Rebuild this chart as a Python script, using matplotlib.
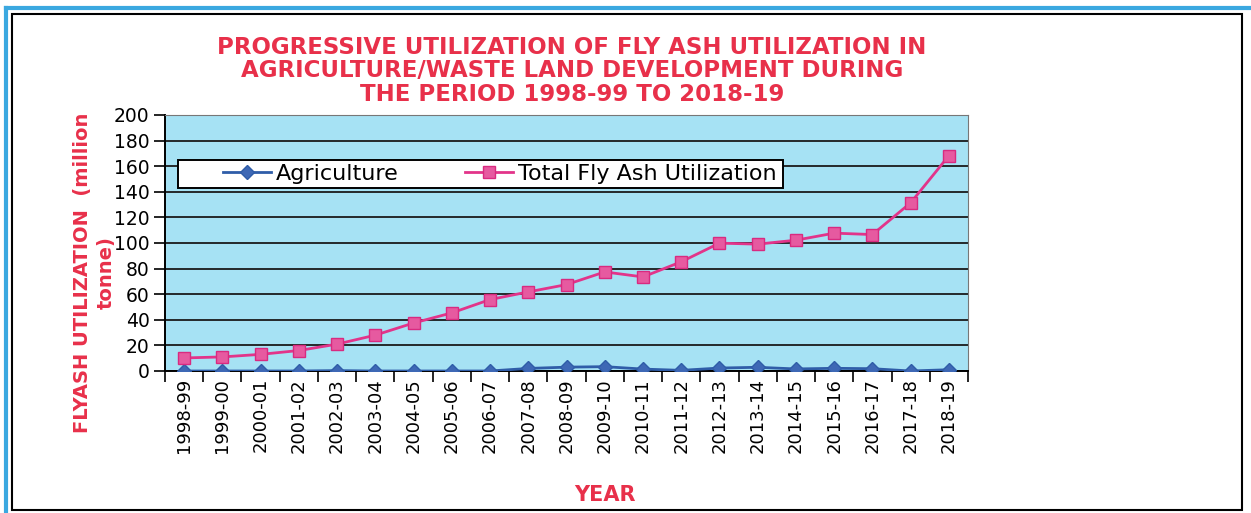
import matplotlib
matplotlib.use("Agg")
import matplotlib.pyplot as plt
from matplotlib.patches import Rectangle
from matplotlib.lines import Line2D

years = ["1998-99", "1999-00", "2000-01", "2001-02", "2002-03", "2003-04",
         "2004-05", "2005-06", "2006-07", "2007-08", "2008-09", "2009-10",
         "2010-11", "2011-12", "2012-13", "2013-14", "2014-15", "2015-16",
         "2016-17", "2017-18", "2018-19"]
agriculture = [0.0, 0.0, 0.0, 0.0, 0.3, 0.0, 0.0, 0.0, 0.0, 2.0, 3.0, 3.4,
               1.5, 0.5, 2.3, 2.9, 1.6, 2.1, 1.8, 0.0, 1.0]
total = [10.2, 11.0, 13.0, 16.0, 21.0, 28.0, 37.5, 45.4, 55.8, 61.8, 67.5,
         77.4, 73.5, 85.3, 99.9, 99.1, 102.2, 107.7, 106.6, 131.4, 168.2]

RED = "#E8304A"
fig = plt.figure(figsize=(12.51, 5.13), dpi=100)

# outer frame of the scanned page box
fig.add_artist(Rectangle((12 / 1251, 3 / 513), 1230 / 1251, 496 / 513,
                         transform=fig.transFigure, fill=False,
                         edgecolor="black", lw=1.5))
fig.add_artist(Line2D([6 / 1251, 6 / 1251], [0.0, 1 - 8 / 513],
                      transform=fig.transFigure, color="#3BA8E0", lw=3))
fig.add_artist(Line2D([6 / 1251, 1.0], [1 - 8 / 513, 1 - 8 / 513],
                      transform=fig.transFigure, color="#3BA8E0", lw=3))

ax = fig.add_axes([165 / 1251, 1 - 371 / 513, 803 / 1251, 256 / 513])
ax.set_facecolor("#A6E2F4")
x = list(range(len(years)))

ax.plot(x, agriculture, color="#2F5DA8", lw=2, marker="D", markersize=7,
        markerfacecolor="#3E68B5", markeredgecolor="#2F5DA8",
        label="Agriculture", zorder=3)
ax.plot(x, total, color="#E2348A", lw=2, marker="s", markersize=9,
        markerfacecolor="#E65AA0", markeredgecolor="#D92A80",
        label="Total Fly Ash Utilization", zorder=3)

ax.set_ylim(0, 200)
ax.set_yticks(range(0, 201, 20))
ax.set_xlim(-0.5, len(years) - 0.5)
ax.set_xticks(x)
ax.set_xticklabels(years, rotation=90, fontsize=13)
ax.set_xticks([i - 0.5 for i in range(len(years) + 1)], minor=True)
ax.tick_params(axis="x", which="major", length=0, pad=5)
ax.tick_params(axis="x", which="minor", length=8, width=1.2, direction="out")
ax.tick_params(axis="y", length=8, width=1.2, labelsize=13.5, pad=3)
ax.grid(axis="y", color="#1a1a1a", lw=1.3)
ax.set_axisbelow(True)
for s in ["top", "right"]:
    ax.spines[s].set_color("#777777")
for s in ["left", "bottom"]:
    ax.spines[s].set_linewidth(1.4)

ax.set_ylabel("FLYASH UTILIZATION  (million\ntonne)", color=RED,
              fontsize=14, fontweight="bold", linespacing=1.35)
ax.yaxis.set_label_coords(-0.061, 0.385)

# legend box drawn separately so the padding can match the original
ax.add_patch(Rectangle((0.016, 0.715), 0.754, 0.109, transform=ax.transAxes,
                       facecolor="white", edgecolor="black", lw=1.4,
                       zorder=4))
leg = ax.legend(loc="center left", bbox_to_anchor=(0.0722, 0.770), ncol=2,
                fontsize=16, frameon=False, borderpad=0, handlelength=2.15,
                handletextpad=0.22, columnspacing=3.0, borderaxespad=0)
leg.set_zorder(5)

fig.text(572 / 1251, 1 - 36 / 513,
         "PROGRESSIVE UTILIZATION OF FLY ASH UTILIZATION IN\n"
         "AGRICULTURE/WASTE LAND DEVELOPMENT DURING\n"
         "THE PERIOD 1998-99 TO 2018-19",
         ha="center", va="top", color=RED, fontsize=16.5, fontweight="bold",
         linespacing=1.02)
fig.text(605 / 1251, 1 - 495 / 513, "YEAR", ha="center", va="center",
         color=RED, fontsize=15, fontweight="bold")

fig.savefig("out.png", dpi=100)
